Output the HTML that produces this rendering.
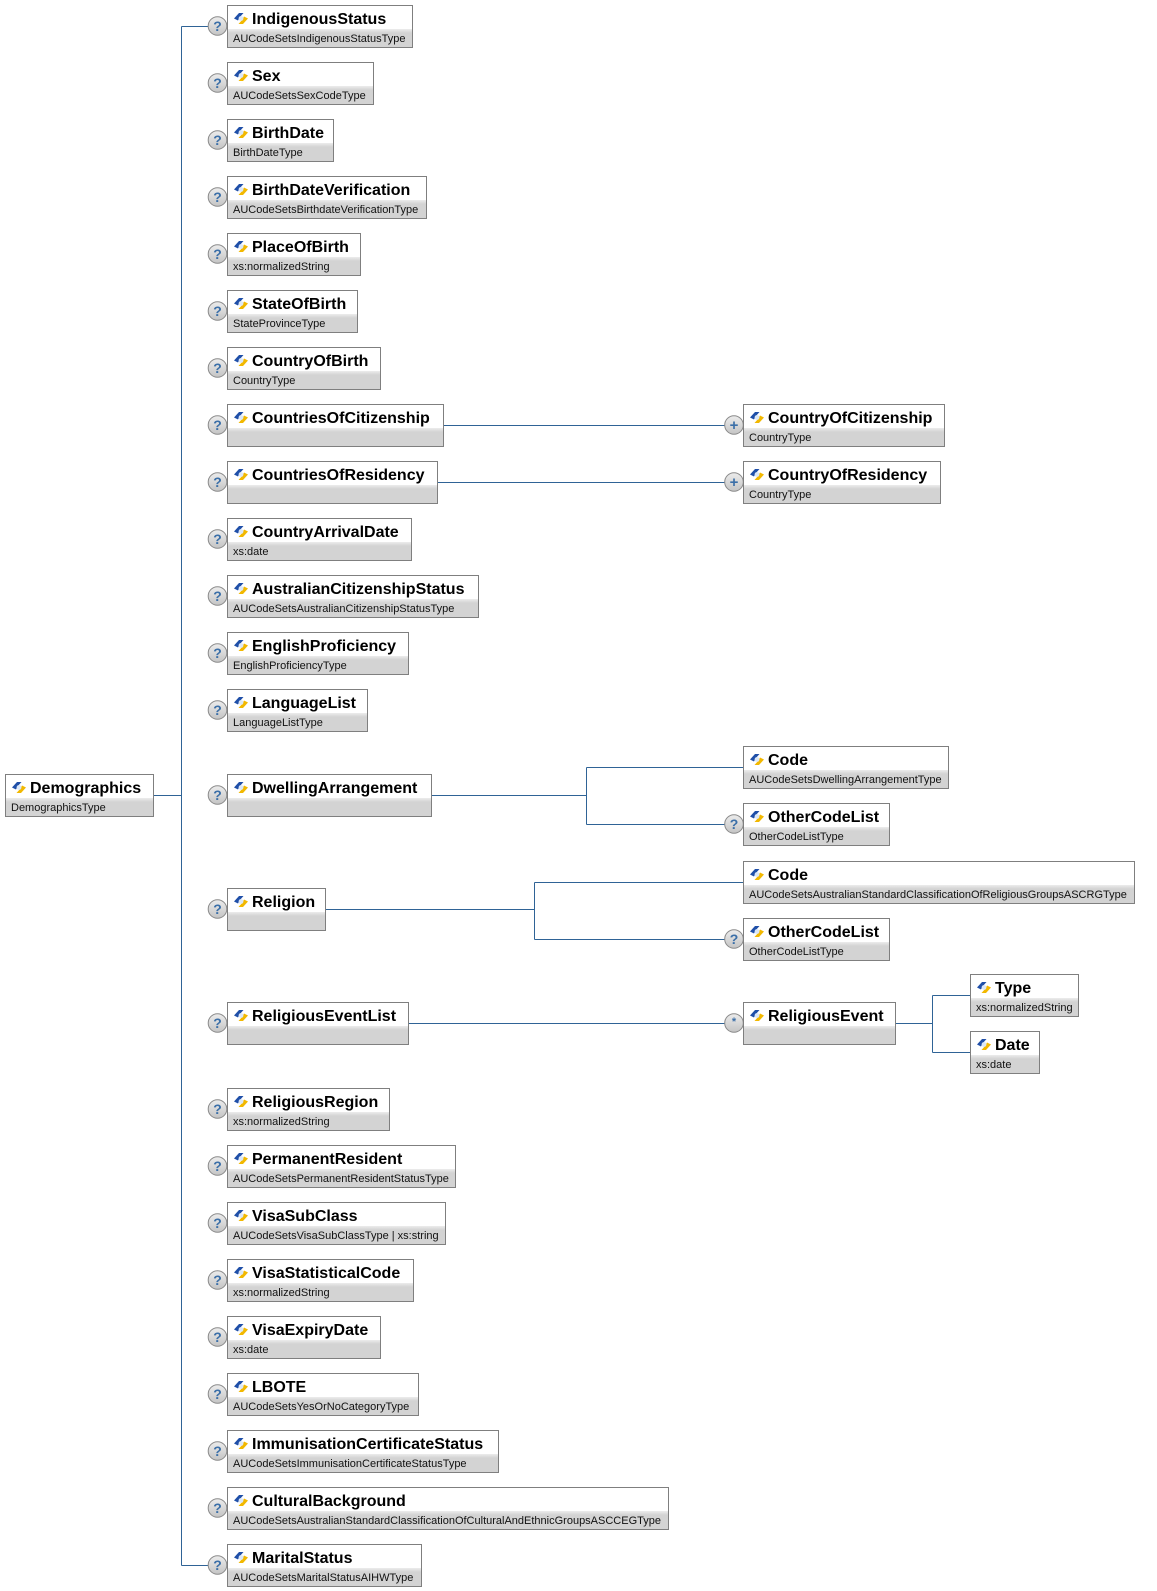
<!DOCTYPE html>
<html><head><meta charset="utf-8"><style>
html,body{margin:0;padding:0;background:#fff;}
body{width:1157px;height:1591px;position:relative;overflow:hidden;font-family:"Liberation Sans",Arial,sans-serif;}
svg.ov{position:absolute;left:0;top:0;}
.b{position:absolute;height:43px;box-sizing:border-box;border:1px solid #7f7f7f;background:#fff;}
.b .t{height:23px;line-height:27px;padding-left:24px;font-weight:bold;font-size:16px;color:#000;white-space:nowrap;position:relative;}
.b .t svg{position:absolute;left:6px;top:7px;}
.b .y{height:18px;line-height:20px;padding-left:5px;font-size:11px;color:#111;background:linear-gradient(#ececec,#d3d3d3 4px);white-space:nowrap;overflow:hidden;}
</style></head><body>

<svg class="ov" width="1157" height="1591">
<defs>
<linearGradient id="cg" x1="0" y1="0" x2="0" y2="1"><stop offset="0" stop-color="#ececec"/><stop offset="1" stop-color="#c4c4c4"/></linearGradient>
<g id="q"><circle cx="0" cy="0" r="9.3" fill="url(#cg)" stroke="#8a8a8a" stroke-width="1"/><text x="0" y="5" text-anchor="middle" font-family="Liberation Sans,sans-serif" font-weight="bold" font-size="14" fill="#3b6fa8">?</text></g>
<g id="p"><circle cx="0" cy="0" r="9.3" fill="url(#cg)" stroke="#8a8a8a" stroke-width="1"/><text x="0" y="5" text-anchor="middle" font-family="Liberation Sans,sans-serif" font-weight="bold" font-size="15" fill="#3b6fa8">+</text></g>
<g id="s"><circle cx="0" cy="0" r="9.3" fill="url(#cg)" stroke="#8a8a8a" stroke-width="1"/><text x="0" y="2" text-anchor="middle" font-family="Liberation Sans,sans-serif" font-weight="bold" font-size="11" fill="#3b6fa8">*</text></g>
<g id="ic"><polygon points="0,5.5 5,0 9.5,0 5.5,4.5 4,7.5" fill="#1f4fa8"/><polygon points="14,5.5 9,11 4.5,11 8.5,6.5 10,3.5" fill="#f2b800"/><circle cx="7" cy="5.5" r="2.4" fill="#dbe7f7"/></g>
</defs>
<g stroke="#2f6396" stroke-width="1" fill="none">
<path d="M181.5 26.5 V1565.5"/>
<path d="M181.5 26.5 H210"/>
<path d="M181.5 1565.5 H210"/>
<path d="M153 795.5 H181.5"/>
<path d="M443 425.5 H726"/>
<path d="M437 482.5 H726"/>
<path d="M431 795.5 H586.5 M586.5 767.5 V824.5 M586.5 767.5 H743 M586.5 824.5 H726"/>
<path d="M325 909.5 H534.5 M534.5 882.5 V939.5 M534.5 882.5 H743 M534.5 939.5 H726"/>
<path d="M408 1023.5 H726"/>
<path d="M895 1023.5 H932.5 M932.5 995.5 V1052.5 M932.5 995.5 H970 M932.5 1052.5 H970"/>
</g>
<use href="#q" x="217.5" y="26"/>
<use href="#q" x="217.5" y="83"/>
<use href="#q" x="217.5" y="140"/>
<use href="#q" x="217.5" y="197"/>
<use href="#q" x="217.5" y="254"/>
<use href="#q" x="217.5" y="311"/>
<use href="#q" x="217.5" y="368"/>
<use href="#q" x="217.5" y="425"/>
<use href="#q" x="217.5" y="482"/>
<use href="#q" x="217.5" y="539"/>
<use href="#q" x="217.5" y="596"/>
<use href="#q" x="217.5" y="653"/>
<use href="#q" x="217.5" y="710"/>
<use href="#q" x="217.5" y="795"/>
<use href="#q" x="217.5" y="909"/>
<use href="#q" x="217.5" y="1023"/>
<use href="#q" x="217.5" y="1109"/>
<use href="#q" x="217.5" y="1166"/>
<use href="#q" x="217.5" y="1223"/>
<use href="#q" x="217.5" y="1280"/>
<use href="#q" x="217.5" y="1337"/>
<use href="#q" x="217.5" y="1394"/>
<use href="#q" x="217.5" y="1451"/>
<use href="#q" x="217.5" y="1508"/>
<use href="#q" x="217.5" y="1565"/>
<use href="#p" x="734" y="425"/>
<use href="#p" x="734" y="482"/>
<use href="#q" x="734" y="824"/>
<use href="#q" x="734" y="939"/>
<use href="#s" x="734" y="1023"/>
</svg>

<div class="b" style="left:5px;top:774px;width:149px;"><div class="t"><svg width="14" height="11" viewBox="0 0 14 11"><use href="#ic"/></svg>Demographics</div><div class="y">DemographicsType</div></div>

<div class="b" style="left:227px;top:5px;width:186px;"><div class="t"><svg width="14" height="11" viewBox="0 0 14 11"><use href="#ic"/></svg>IndigenousStatus</div><div class="y">AUCodeSetsIndigenousStatusType</div></div>

<div class="b" style="left:227px;top:62px;width:147px;"><div class="t"><svg width="14" height="11" viewBox="0 0 14 11"><use href="#ic"/></svg>Sex</div><div class="y">AUCodeSetsSexCodeType</div></div>

<div class="b" style="left:227px;top:119px;width:107px;"><div class="t"><svg width="14" height="11" viewBox="0 0 14 11"><use href="#ic"/></svg>BirthDate</div><div class="y">BirthDateType</div></div>

<div class="b" style="left:227px;top:176px;width:200px;"><div class="t"><svg width="14" height="11" viewBox="0 0 14 11"><use href="#ic"/></svg>BirthDateVerification</div><div class="y">AUCodeSetsBirthdateVerificationType</div></div>

<div class="b" style="left:227px;top:233px;width:134px;"><div class="t"><svg width="14" height="11" viewBox="0 0 14 11"><use href="#ic"/></svg>PlaceOfBirth</div><div class="y">xs:normalizedString</div></div>

<div class="b" style="left:227px;top:290px;width:131px;"><div class="t"><svg width="14" height="11" viewBox="0 0 14 11"><use href="#ic"/></svg>StateOfBirth</div><div class="y">StateProvinceType</div></div>

<div class="b" style="left:227px;top:347px;width:154px;"><div class="t"><svg width="14" height="11" viewBox="0 0 14 11"><use href="#ic"/></svg>CountryOfBirth</div><div class="y">CountryType</div></div>

<div class="b" style="left:227px;top:404px;width:217px;"><div class="t"><svg width="14" height="11" viewBox="0 0 14 11"><use href="#ic"/></svg>CountriesOfCitizenship</div><div class="y"></div></div>

<div class="b" style="left:227px;top:461px;width:211px;"><div class="t"><svg width="14" height="11" viewBox="0 0 14 11"><use href="#ic"/></svg>CountriesOfResidency</div><div class="y"></div></div>

<div class="b" style="left:227px;top:518px;width:185px;"><div class="t"><svg width="14" height="11" viewBox="0 0 14 11"><use href="#ic"/></svg>CountryArrivalDate</div><div class="y">xs:date</div></div>

<div class="b" style="left:227px;top:575px;width:252px;"><div class="t"><svg width="14" height="11" viewBox="0 0 14 11"><use href="#ic"/></svg>AustralianCitizenshipStatus</div><div class="y">AUCodeSetsAustralianCitizenshipStatusType</div></div>

<div class="b" style="left:227px;top:632px;width:182px;"><div class="t"><svg width="14" height="11" viewBox="0 0 14 11"><use href="#ic"/></svg>EnglishProficiency</div><div class="y">EnglishProficiencyType</div></div>

<div class="b" style="left:227px;top:689px;width:141px;"><div class="t"><svg width="14" height="11" viewBox="0 0 14 11"><use href="#ic"/></svg>LanguageList</div><div class="y">LanguageListType</div></div>

<div class="b" style="left:227px;top:774px;width:205px;"><div class="t"><svg width="14" height="11" viewBox="0 0 14 11"><use href="#ic"/></svg>DwellingArrangement</div><div class="y"></div></div>

<div class="b" style="left:227px;top:888px;width:99px;"><div class="t"><svg width="14" height="11" viewBox="0 0 14 11"><use href="#ic"/></svg>Religion</div><div class="y"></div></div>

<div class="b" style="left:227px;top:1002px;width:182px;"><div class="t"><svg width="14" height="11" viewBox="0 0 14 11"><use href="#ic"/></svg>ReligiousEventList</div><div class="y"></div></div>

<div class="b" style="left:227px;top:1088px;width:163px;"><div class="t"><svg width="14" height="11" viewBox="0 0 14 11"><use href="#ic"/></svg>ReligiousRegion</div><div class="y">xs:normalizedString</div></div>

<div class="b" style="left:227px;top:1145px;width:229px;"><div class="t"><svg width="14" height="11" viewBox="0 0 14 11"><use href="#ic"/></svg>PermanentResident</div><div class="y">AUCodeSetsPermanentResidentStatusType</div></div>

<div class="b" style="left:227px;top:1202px;width:219px;"><div class="t"><svg width="14" height="11" viewBox="0 0 14 11"><use href="#ic"/></svg>VisaSubClass</div><div class="y">AUCodeSetsVisaSubClassType | xs:string</div></div>

<div class="b" style="left:227px;top:1259px;width:187px;"><div class="t"><svg width="14" height="11" viewBox="0 0 14 11"><use href="#ic"/></svg>VisaStatisticalCode</div><div class="y">xs:normalizedString</div></div>

<div class="b" style="left:227px;top:1316px;width:154px;"><div class="t"><svg width="14" height="11" viewBox="0 0 14 11"><use href="#ic"/></svg>VisaExpiryDate</div><div class="y">xs:date</div></div>

<div class="b" style="left:227px;top:1373px;width:192px;"><div class="t"><svg width="14" height="11" viewBox="0 0 14 11"><use href="#ic"/></svg>LBOTE</div><div class="y">AUCodeSetsYesOrNoCategoryType</div></div>

<div class="b" style="left:227px;top:1430px;width:272px;"><div class="t"><svg width="14" height="11" viewBox="0 0 14 11"><use href="#ic"/></svg>ImmunisationCertificateStatus</div><div class="y">AUCodeSetsImmunisationCertificateStatusType</div></div>

<div class="b" style="left:227px;top:1487px;width:442px;"><div class="t"><svg width="14" height="11" viewBox="0 0 14 11"><use href="#ic"/></svg>CulturalBackground</div><div class="y">AUCodeSetsAustralianStandardClassificationOfCulturalAndEthnicGroupsASCCEGType</div></div>

<div class="b" style="left:227px;top:1544px;width:195px;"><div class="t"><svg width="14" height="11" viewBox="0 0 14 11"><use href="#ic"/></svg>MaritalStatus</div><div class="y">AUCodeSetsMaritalStatusAIHWType</div></div>

<div class="b" style="left:743px;top:404px;width:202px;"><div class="t"><svg width="14" height="11" viewBox="0 0 14 11"><use href="#ic"/></svg>CountryOfCitizenship</div><div class="y">CountryType</div></div>

<div class="b" style="left:743px;top:461px;width:198px;"><div class="t"><svg width="14" height="11" viewBox="0 0 14 11"><use href="#ic"/></svg>CountryOfResidency</div><div class="y">CountryType</div></div>

<div class="b" style="left:743px;top:746px;width:206px;"><div class="t"><svg width="14" height="11" viewBox="0 0 14 11"><use href="#ic"/></svg>Code</div><div class="y">AUCodeSetsDwellingArrangementType</div></div>

<div class="b" style="left:743px;top:803px;width:147px;"><div class="t"><svg width="14" height="11" viewBox="0 0 14 11"><use href="#ic"/></svg>OtherCodeList</div><div class="y">OtherCodeListType</div></div>

<div class="b" style="left:743px;top:861px;width:392px;"><div class="t"><svg width="14" height="11" viewBox="0 0 14 11"><use href="#ic"/></svg>Code</div><div class="y">AUCodeSetsAustralianStandardClassificationOfReligiousGroupsASCRGType</div></div>

<div class="b" style="left:743px;top:918px;width:147px;"><div class="t"><svg width="14" height="11" viewBox="0 0 14 11"><use href="#ic"/></svg>OtherCodeList</div><div class="y">OtherCodeListType</div></div>

<div class="b" style="left:743px;top:1002px;width:153px;"><div class="t"><svg width="14" height="11" viewBox="0 0 14 11"><use href="#ic"/></svg>ReligiousEvent</div><div class="y"></div></div>

<div class="b" style="left:970px;top:974px;width:109px;"><div class="t"><svg width="14" height="11" viewBox="0 0 14 11"><use href="#ic"/></svg>Type</div><div class="y">xs:normalizedString</div></div>

<div class="b" style="left:970px;top:1031px;width:70px;"><div class="t"><svg width="14" height="11" viewBox="0 0 14 11"><use href="#ic"/></svg>Date</div><div class="y">xs:date</div></div>

</body></html>
